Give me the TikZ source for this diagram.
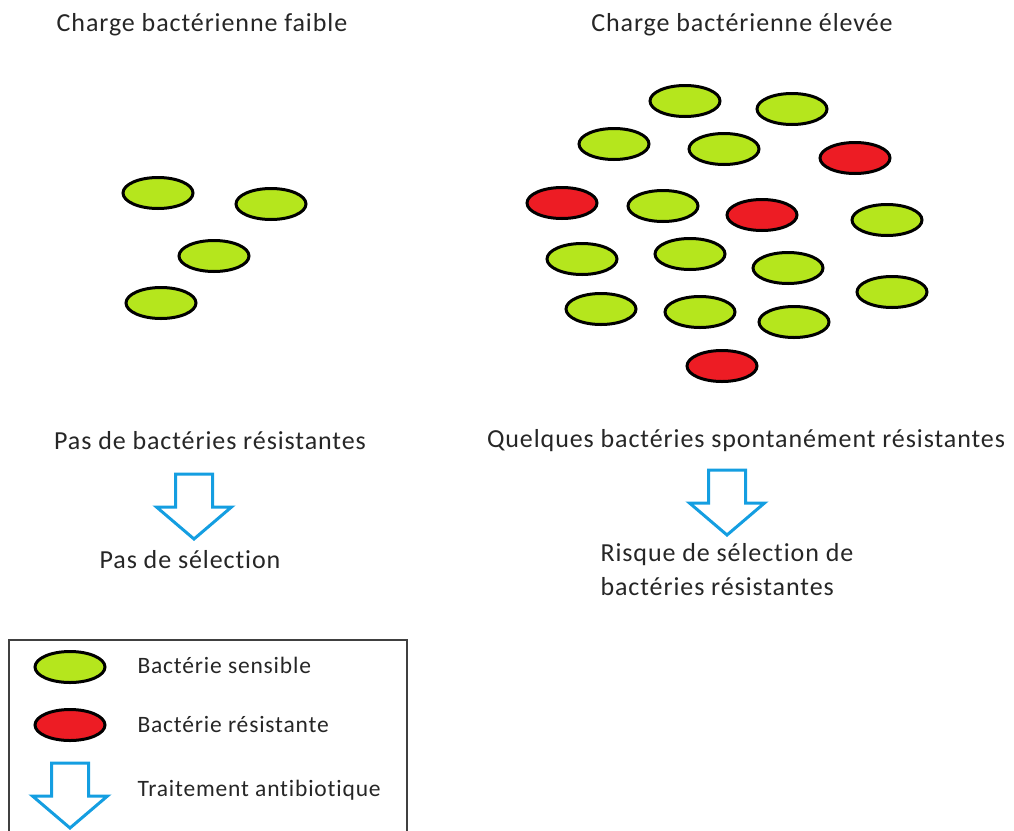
\documentclass[tikz,border=0pt]{standalone}
\usepackage{fontspec}
\setmainfont{Carlito}[LetterSpace=3.5, Ligatures=NoCommon]
\usetikzlibrary{positioning, shapes.geometric}

\definecolor{vertbact}{RGB}{181,230,29}
\definecolor{rougebact}{RGB}{237,28,36}
\definecolor{bleufleche}{RGB}{20,158,225}

\tikzset{
    bact/.style={ellipse, draw=black, line width=3pt, minimum width=70pt, minimum height=31pt, inner sep=0pt},
    sensible/.style={bact, fill=vertbact},
    resistante/.style={bact, fill=rougebact},
    fleche/.pic={
        \draw[bleufleche, fill=white, line width=3pt, line join=miter]
            (-18.5,0) coordinate (-tail) -- (18.5,0) -- (18.5,33) -- (37.5,33) -- (0,65) coordinate (-tip)
            -- (-37.5,33) -- (-18.5,33) -- cycle;
    },
    titre/.style={font=\fontsize{26}{34}\selectfont, text=black!85},
    legende/.style={font=\fontsize{23.5}{26}\selectfont, text=black!85, anchor=west}
}

\begin{document}
\begin{tikzpicture}[x=1pt, y=-1pt]
        \useasboundingbox (0,0) rectangle (1014,830);

        % titres
        \node[titre] (tfaible) at (202,25) {Charge bactérienne faible};
        \node[titre] (televee) at (742,25) {Charge bactérienne élevée};

        % charge faible
        \foreach \x/\y [count=\i] in {158/193, 271/204, 214/256, 161/303}
            \node[sensible] (f\i) at (\x,\y) {};

        % charge elevee
        \foreach \x/\y [count=\i] in {685/101, 792/109, 614/144, 724/149, 663/206, 887/220, 582/259, 690/254, 788/268, 892/292, 601/309, 700/312, 794/322}
            \node[sensible] (e\i) at (\x,\y) {};
        \foreach \x/\y [count=\i] in {855/158, 562/203, 762/215, 722/366}
            \node[resistante] (r\i) at (\x,\y) {};

        % bilans
        \node[titre] (pasres) at (210,441) {Pas de bactéries résistantes};
        \node[titre] (quelques) at (746,441) {Quelques bactéries spontanément résistantes};
        \pic (fg) at (194,474) {fleche};
        \pic (fd) at (727,470) {fleche};
        \node[titre] (passel) at (190,560) {Pas de sélection};
        \node[titre, align=left, anchor=west] (risque) at (597,570) {Risque de sélection de\\bactéries résistantes};

        % legende
        \draw[black!75, line width=1.5pt] (9,850) -- (9,640) -- (407,640) -- (407,850);
        \node[sensible] (lsens) at (70,667) {};
        \node[resistante] (lres) at (70,725) {};
        \pic (lfl) at (70,763) {fleche};
        \node[legende] (tsens) at (134,665) {Bactérie sensible};
        \node[legende] (tres) at (134,724) {Bactérie résistante};
        \node[legende] (ttrait) at (134,790) {Traitement antibiotique};
    \end{tikzpicture}
\end{document}
